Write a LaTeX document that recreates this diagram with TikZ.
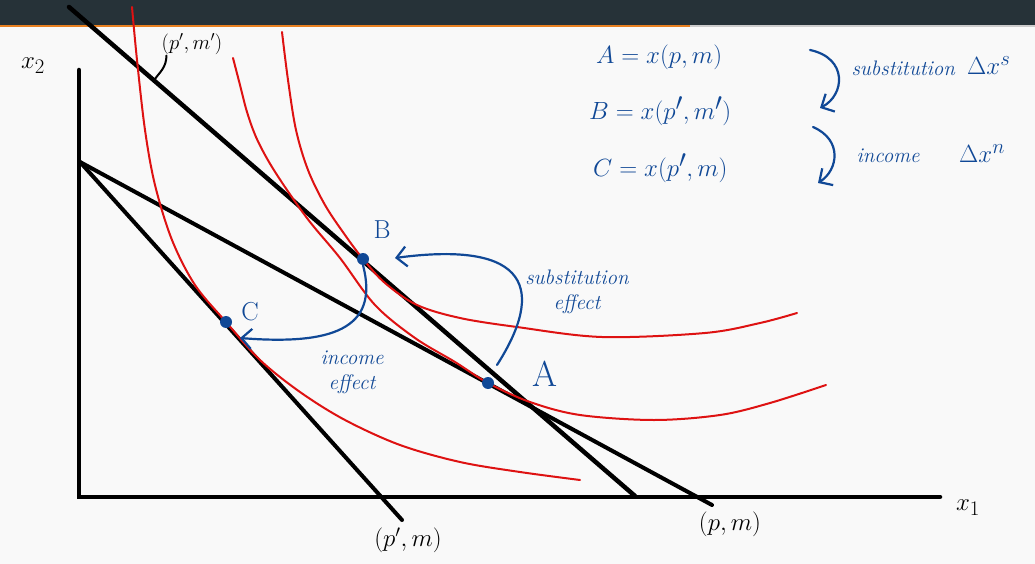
\documentclass[tikz,border=0pt]{standalone}
\usetikzlibrary{arrows.meta}
\definecolor{penblue}{RGB}{16,72,150}
\definecolor{penred}{RGB}{222,18,18}
\definecolor{barslate}{RGB}{38,50,56}
\definecolor{barorange}{RGB}{232,128,32}
\definecolor{paper}{RGB}{249,249,249}
\begin{document}
\begin{tikzpicture}[x=1pt,y=-1pt,
  budget/.style={line width=4.5pt,line cap=round},
  indiff/.style={penred,line width=2pt,line cap=round},
  pen/.style={penblue,line width=2.2pt,line cap=round,-{Straight Barb[length=10pt,width=20pt]}},
  bundle/.style={circle,fill=penblue,inner sep=0pt,minimum size=12pt},
  hand/.style={inner sep=1pt,font=\fontsize{#1}{#1}\selectfont}]
  \useasboundingbox (0,0) rectangle (1035,564);
  \fill[paper] (0,0) rectangle (1035,564);
  \fill[barslate] (0,0) rectangle (1035,25);
  \fill[barorange] (0,25) rectangle (690,27.5); \fill[black!20] (690,25) rectangle (1035,27.5);
  % axes
  \coordinate (o) at (79,497); \coordinate (ytop) at (79,70); \coordinate (xend) at (940,497);
  \draw[budget] (ytop)--(o)--(xend);
  \node[hand=32] (xtwo) at (33,66) {$x_2$}; \node[hand=32] (xone) at (968,508) {$x_1$};
  % budget lines
  \coordinate (v) at (80,162); \coordinate (pm) at (712,505); \coordinate (ppm) at (402,520);
  \coordinate (top) at (69,7); \coordinate (ppmm) at (635,496);
  \draw[budget,line width=4pt] (v)--(pm); \draw[budget,line width=4pt] (v)--(ppm); \draw[budget] (top)--(ppmm);
  \node[hand=26] (lpm) at (730,524) {$(p,m)$}; \node[hand=26] (lppm) at (408,540) {$(p',m)$};
  \node[hand=21] (lppmm) at (192,44) {$(p',m')$};
  \draw[line width=2pt,line cap=round] (lppmm.south west) ++(6,0) .. controls +(0,12) and +(4,-6) .. (155,79);
  % indifference curves
  \draw[indiff] plot[smooth,tension=0.55] coordinates {(132,7) (137,60) (145,130) (155,185) (172,240) (195,285) (226,322) (260,360) (300,392) (345,420) (400,445) (460,462) (520,472) (580,480)};
  \draw[indiff] plot[smooth,tension=0.55] coordinates {(233,58) (240,85) (247,112) (256,137) (269,162) (287,190) (310,222) (340,258) (375,305) (415,338) (455,362) (488,383) (530,402) (580,415) (654,420) (720,415) (770,403) (826,385)};
  \draw[indiff] plot[smooth,tension=0.55] coordinates {(282,32) (288,80) (296,130) (308,170) (325,205) (345,235) (363,259) (385,283) (417,305) (460,318) (517,327) (602,337) (705,333) (760,323) (797,313)};
  % bundles
  \node[bundle] (A) at (488,383) {}; \node[bundle] (B) at (363,259) {}; \node[bundle] (C) at (226,322) {};
  \node[hand=36,penblue] (la) at (545,374) {A}; \node[hand=26,penblue] (lb) at (382,230) {B}; \node[hand=26,penblue] (lc) at (250,312) {C};
  \draw[pen] ([xshift=9pt,yshift=18pt]A.center) .. controls (545,290) and (530,240) .. ([xshift=32pt,yshift=1pt]B.center);
  \draw[pen] (B.south) .. controls (380,330) and (330,345) .. ([xshift=14pt,yshift=-16pt]C.center);
  \node[penblue,align=center,font=\fontsize{21}{25}\selectfont\itshape] (subs) at (577,292) {substitution\\effect};
  \node[penblue,align=center,font=\fontsize{21}{25}\selectfont\itshape] (inc) at (352,372) {income\\effect};
  % decomposition
  \node[hand=34,penblue,anchor=west] (eqa) at (595,57) {$A = x(p,m)$};
  \node[hand=34,penblue,anchor=west] (eqb) at (588,111) {$B = x(p',m')$};
  \node[hand=34,penblue,anchor=west] (eqc) at (592,168) {$C = x(p',m)$};
  \coordinate (s0) at (810,50); \coordinate (s1) at (820,108); \coordinate (n0) at (813,127); \coordinate (n1) at (818,183);
  \draw[pen] (s0) .. controls (848,58) and (845,95) .. (s1);
  \draw[pen] (n0) .. controls (843,140) and (838,170) .. (n1);
  \node[penblue,anchor=west,font=\fontsize{21}{21}\selectfont\itshape] (ws) at (848,68) {substitution};
  \node[hand=32,penblue,anchor=west] (ds) at (966,66) {$\Delta x^s$};
  \node[penblue,anchor=west,font=\fontsize{21}{21}\selectfont\itshape] (wn) at (853,156) {income};
  \node[hand=32,penblue,anchor=west] (dn) at (958,154) {$\Delta x^n$};
\end{tikzpicture}
\end{document}
